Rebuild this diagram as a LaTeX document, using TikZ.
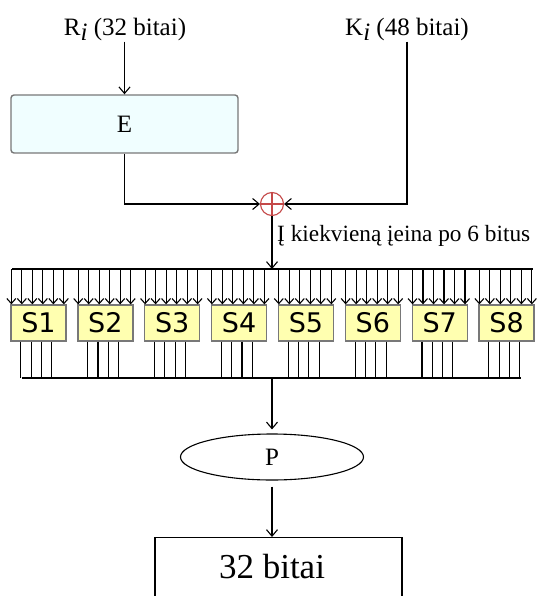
\documentclass[tikz,border=0pt]{standalone}
\usepackage{fontspec}
\setmainfont{Liberation Serif}
\newfontfamily\sboxfont{DejaVu Sans}
\usetikzlibrary{arrows.meta,shapes.geometric}

\definecolor{eboxfill}{RGB}{240,254,255}
\definecolor{sboxfill}{RGB}{255,255,176}
\definecolor{boxedge}{RGB}{120,120,120}
\definecolor{xorred}{RGB}{196,72,72}

\tikzset{
  wire/.style={line width=1.1pt, black},
  arr/.style={wire, -{Straight Barb[length=6.5pt,width=11pt]}},
  inarr/.style={wire, -{Straight Barb[length=5pt,width=9pt]}},
  lbl/.style={font=\fontsize{25}{30}\selectfont, inner sep=1pt},
  ebox/.style={draw=boxedge, line width=1.4pt, fill=eboxfill, rounded corners=3pt,
    minimum width=227pt, minimum height=58pt, inner sep=0pt,
    font=\fontsize{25}{30}\selectfont},
  sbox/.style={draw=boxedge, line width=1.3pt, fill=sboxfill,
    minimum width=55pt, minimum height=36pt, inner sep=0pt,
    font=\sboxfont\fontsize{27}{30}\selectfont},
  xorc/.style={circle, draw=xorred, line width=1.1pt, minimum size=23pt, inner sep=0pt,
    path picture={\draw[xorred, line width=1.1pt]
      (path picture bounding box.north) -- (path picture bounding box.south)
      (path picture bounding box.west) -- (path picture bounding box.east);}},
  pell/.style={ellipse, draw, line width=1.1pt, minimum width=183pt, minimum height=46pt,
    inner sep=0pt, font=\fontsize{25}{30}\selectfont},
}

\begin{document}
\begin{tikzpicture}[x=1pt,y=-1pt]
\useasboundingbox (0,0) rectangle (536,596);

% inputs
\node[lbl] (ri) at (125,29) {R\raisebox{-5pt}{\itshape i} (32 bitai)};
\node[lbl] (ki) at (407,29) {K\raisebox{-5pt}{\itshape i} (48 bitai)};

% expansion and key mixing
\node[ebox] (e) at (124.5,124) {E};
\node[xorc] (xor) at (272,204) {};

\draw[arr] (ri.south -| e.north) -- (e.north);
\draw[arr] (e.south) |- (xor.west);
\draw[arr] (ki.south) |- (xor.east);

\node[font=\fontsize{23.3}{27}\selectfont, anchor=base west, inner sep=0pt] (note)
  at (277,241) {Į kiekvieną įeina po 6 bitus};

% distribution bus and S-boxes
\coordinate (busL) at (12,269);
\coordinate (busR) at (533,269);
\coordinate (botL) at (21.5,378);
\coordinate (botR) at (520.5,378);

\draw[wire] (busL) -- (busR);
\draw[arr] (xor.south) -- (xor.south |- busL);

\foreach \i in {1,...,8} {
  \node[sbox] (s\i) at ({38.5+(\i-1)*66.86},323) {S\i};
  \foreach \k in {0,...,5}
    \draw[inarr] ([xshift={1+\k*10.5}]s\i.north west |- busL)
      -- ([xshift={1+\k*10.5}]s\i.north west);
  \foreach \k in {0,...,3}
    \draw[wire] ([xshift={10.5+\k*10.3}]s\i.south west)
      -- ([xshift={10.5+\k*10.3}]s\i.south west |- botL);
}
\draw[wire] (botL) -- (botR);

% permutation and result
\node[pell] (p) at (272,457) {P};
\draw[arr, shorten >=4pt] (p.north |- botL) -- (p.north);

\node[draw, line width=1.1pt, minimum width=247pt, minimum height=80pt, inner sep=0pt,
  anchor=north] (outbox) at (278.5,537) {};
\node[font=\fontsize{35}{40}\selectfont, inner sep=0pt] (outtext) at (272,567) {32 bitai};
\draw[arr, shorten <=6pt] (p.south) -- (p.south |- outbox.north);
\end{tikzpicture}
\end{document}
